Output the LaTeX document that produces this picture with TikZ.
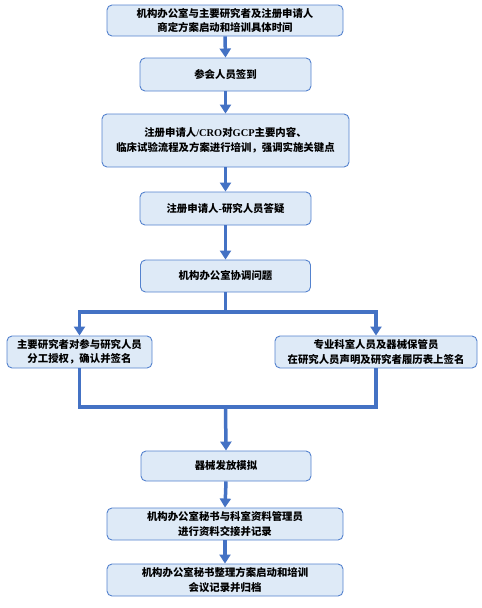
\documentclass[tikz,border=0pt]{standalone}
\usepackage{fontspec}
\setmainfont{Liberation Serif}
\newfontfamily\cjk{Noto Sans CJK SC}
\newcommand{\lat}[1]{{\rmfamily #1}}
\usetikzlibrary{arrows.meta}
\definecolor{boxfill}{RGB}{222,234,247}
\definecolor{boxline}{RGB}{84,130,206}
\definecolor{arrcol}{RGB}{68,114,196}
\tikzset{
  box/.style={draw=boxline, fill=boxfill, rounded corners=5pt, line width=0.9pt,
    align=center, inner sep=0pt, font=\cjk\bfseries\fontsize{10.4}{14.5}\selectfont, text=black},
  conn/.style={draw=arrcol, line width=3.5pt, line join=miter},
  arr/.style={conn, -{Triangle[width=11pt,length=9pt]}}
}
\begin{document}
\begin{tikzpicture}[x=1pt,y=-1pt]
\useasboundingbox (0,0) rectangle (482,608);
\node[box, minimum width=236pt, minimum height=31pt] (b1) at (225,20.5) {机构办公室与主要研究者及注册申请人\\商定方案启动和培训具体时间};
\node[box, minimum width=171pt, minimum height=33pt] (b2) at (225.5,74.5) {参会人员签到};
\node[box, minimum width=247pt, minimum height=53pt] (b3) at (225.5,140.5) {注册申请人\lat{/CRO}对\lat{GCP}主要内容、\\临床试验流程及方案进行培训，强调实施关键点};
\node[box, minimum width=171pt, minimum height=33pt] (b4) at (225.5,208.5) {注册申请人\lat{-}研究人员答疑};
\node[box, minimum width=170pt, minimum height=32pt] (b5) at (225.5,276) {机构办公室协调问题};
\node[box, minimum width=145pt, minimum height=32pt] (b6) at (79.5,352) {主要研究者对参与研究人员\\分工授权，确认并签名};
\node[box, minimum width=202pt, minimum height=32pt] (b7) at (376,352) {专业科室人员及器械保管员\\在研究人员声明及研究者履历表上签名};
\node[box, minimum width=170pt, minimum height=30pt] (b8) at (226,466) {器械发放模拟};
\node[box, minimum width=236pt, minimum height=32pt] (b9) at (225,524) {机构办公室秘书与科室资料管理员\\进行资料交接并记录};
\node[box, minimum width=236pt, minimum height=32pt] (b10) at (225,580) {机构办公室秘书整理方案启动和培训\\会议记录并归档};
\draw[arr] (b1.south) -- (b2.north);
\draw[arr] (b2.south) -- (b3.north);
\draw[arr] (b3.south) -- (b4.north);
\draw[arr] (b4.south) -- (b5.north);
\coordinate (j1) at (225.5,312);
\coordinate (j2) at (225.5,407);
\draw[conn] (b5.south) -- (j1);
\draw[arr] (j1) -| (b6.north);
\draw[arr] (j1) -| (b7.north);
\draw[conn] (b6.south) -- (b6.south |- j2) -- (b7.south |- j2) -- (b7.south);
\draw[arr] (j2) -- (b8.north);
\draw[arr] (b8.south) -- (b9.north);
\draw[arr] (b9.south) -- (b10.north);
\end{tikzpicture}
\end{document}
